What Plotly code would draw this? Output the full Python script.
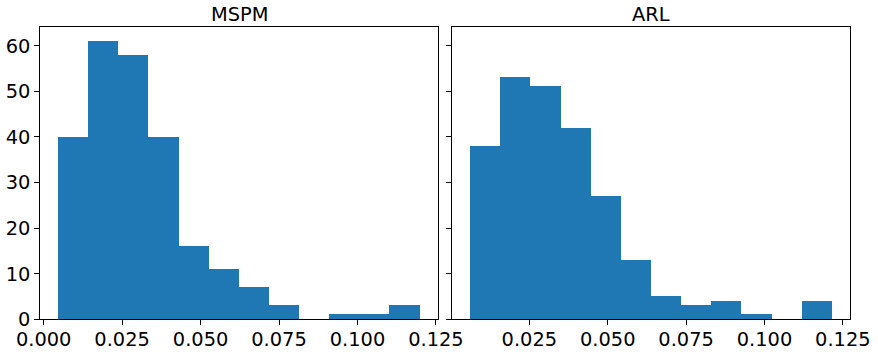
import numpy as np
import plotly.graph_objects as go

# ---- data ----
titles = ["MSPM", "ARL"]
mspm_counts = [40, 61, 58, 40, 16, 11, 7, 3, 0, 1, 1, 3]
mspm_range = (0.0047, 0.1199)
arl_counts = [38, 53, 51, 42, 27, 13, 5, 3, 4, 1, 0, 4]
arl_range = (0.0062, 0.1216)
x_tick_vals = [0.0, 0.025, 0.05, 0.075, 0.1, 0.125]
x_tick_text = ["0.000", "0.025", "0.050", "0.075", "0.100", "0.125"]
y_tick_vals = [0, 10, 20, 30, 40, 50, 60]

W, H = 878, 352
BLUE = "#1f77b4"
FONT = "DejaVu Sans"
FS = 19.4

def bins(counts, rng):
    edges = np.linspace(rng[0], rng[1], len(counts) + 1)
    centers = (edges[:-1] + edges[1:]) / 2
    width = edges[1] - edges[0]
    return centers, width, edges

fig = go.Figure()
ymax = max(max(mspm_counts), max(arl_counts)) * 1.05
axes_cfg = []
for i, (counts, rng) in enumerate([(mspm_counts, mspm_range), (arl_counts, arl_range)]):
    c, w, e = bins(counts, rng)
    xa = "x" if i == 0 else "x2"
    ya = "y" if i == 0 else "y2"
    fig.add_trace(go.Bar(x=c, y=counts, width=[w] * len(counts), marker=dict(color=BLUE, line=dict(width=0)),
                         xaxis=xa, yaxis=ya, showlegend=False, hoverinfo="x+y"))
    span = e[-1] - e[0]
    axes_cfg.append((e[0] - 0.05 * span, e[-1] + 0.05 * span))

px_l = [40.3, 452.3]
px_r = [438.0, 850.3]
top, bottom = 27.3, 319.3
ydom = [(H - bottom) / H, (H - top) / H]

common_x = dict(showline=True, linecolor="black", linewidth=1, mirror=True, ticks="outside", ticklen=5,
                tickwidth=1, tickcolor="black", showgrid=False, zeroline=False, automargin=False,
                tickvals=x_tick_vals, ticktext=x_tick_text, ticklabelstandoff=-3,
                tickfont=dict(family=FONT, size=FS, color="black"))
common_y = dict(showline=True, linecolor="black", linewidth=1, mirror=True, ticks="outside", ticklen=5,
                tickwidth=1, tickcolor="black", showgrid=False, zeroline=False, automargin=False,
                tickvals=y_tick_vals, range=[0, ymax],
                tickfont=dict(family=FONT, size=FS, color="black"), domain=ydom)

fig.update_layout(
    width=W, height=H, margin=dict(l=0, r=0, t=0, b=0, autoexpand=False),
    paper_bgcolor="white", plot_bgcolor="white", bargap=0,
    xaxis=dict(common_x, domain=[px_l[0] / W, px_r[0] / W], range=list(axes_cfg[0]), anchor="y"),
    xaxis2=dict(common_x, domain=[px_l[1] / W, px_r[1] / W], range=list(axes_cfg[1]), anchor="y2"),
    yaxis=dict(common_y, anchor="x"),
    yaxis2=dict(common_y, anchor="x2", showticklabels=False, matches="y"),
)

for i, t in enumerate(titles):
    fig.add_annotation(text=t, xref="paper", yref="paper",
                       x=(px_l[i] + px_r[i]) / 2 / W, y=ydom[1], xanchor="center", yanchor="bottom",
                       showarrow=False, yshift=-1, font=dict(family=FONT, size=FS, color="black"))

fig.write_html("out.html", config={"displayModeBar": False},
               post_script="document.body.style.margin='0px';document.body.style.overflow='hidden';")
